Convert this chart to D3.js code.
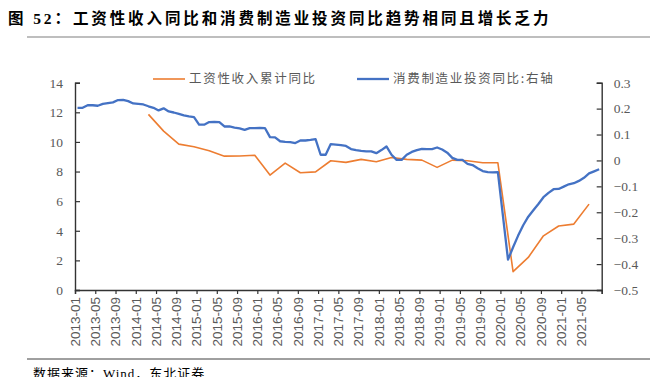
<!DOCTYPE html>
<html>
<head>
<meta charset="utf-8">
<script src="https://cdn.jsdelivr.net/npm/d3@7/dist/d3.min.js"></script>
<style>
  body { margin: 0; background: #fff; }
</style>
</head>
<body>
<div id="chart"></div>
<script>
// ---------- data ----------
// x-axis tick labels (every 4 months)
const tickLabels = ["2013-01","2013-05","2013-09","2014-01","2014-05","2014-09","2015-01","2015-05","2015-09",
  "2016-01","2016-05","2016-09","2017-01","2017-05","2017-09","2018-01","2018-05","2018-09",
  "2019-01","2019-05","2019-09","2020-01","2020-05","2020-09","2021-01","2021-05"];
const axisStart = "2013-01";
const axisEnd = "2021-09";

// 工资性收入累计同比 (quarterly, left axis, %)
const wageMonths = ["2014-03","2014-06","2014-09","2014-12","2015-03","2015-06","2015-09","2015-12",
  "2016-03","2016-06","2016-09","2016-12","2017-03","2017-06","2017-09","2017-12",
  "2018-03","2018-06","2018-09","2018-12","2019-03","2019-06","2019-09","2019-12",
  "2020-03","2020-06","2020-09","2020-12","2021-03","2021-06"];
const wageValues = [11.86,10.73,9.85,9.67,9.40,9.04,9.05,9.10,
  7.76,8.57,7.92,7.98,8.73,8.62,8.82,8.66,
  8.95,8.82,8.77,8.28,8.77,8.73,8.59,8.59,
  1.24,2.20,3.66,4.32,4.45,5.80];

// 消费制造业投资同比 (monthly from 2013-01, right axis; null = no data)
const investStart = "2013-01";
const investValues = [
  0.203,0.203,0.213,0.213,0.211,0.218,0.221,0.224,0.233,0.234,0.229,0.220,   // 2013
  0.218,0.216,0.209,0.203,0.193,0.201,0.189,0.185,0.180,0.174,0.170,0.167,   // 2014
  0.138,0.138,0.148,0.149,0.148,0.131,0.131,0.127,0.124,0.118,0.125,0.125,   // 2015
  0.126,0.125,0.090,0.089,0.074,0.072,0.071,0.067,0.077,0.077,0.079,0.082,   // 2016
  0.022,0.022,0.063,0.061,0.059,0.056,0.044,0.040,0.037,0.035,0.035,0.028,   // 2017
  0.040,0.054,0.022,0.002,0.002,0.022,0.033,0.040,0.045,0.044,0.044,0.050,   // 2018
  0.042,0.030,0.010,0.002,0.002,-0.013,-0.018,-0.030,-0.041,-0.045,-0.046,-0.045, // 2019
  null,-0.383,-0.335,-0.290,-0.250,-0.217,-0.192,-0.168,-0.142,-0.125,-0.111,-0.110, // 2020
  -0.101,-0.092,-0.088,-0.079,-0.067,-0.050,-0.042,-0.034                      // 2021
];

const leftTicks = [0,2,4,6,8,10,12,14];
const rightTicks = [-0.5,-0.4,-0.3,-0.2,-0.1,0,0.1,0.2,0.3];

// ---------- helpers ----------
const parseMonth = d3.timeParse("%Y-%m");
const monthIndex = s => d3.timeMonth.count(parseMonth(axisStart), parseMonth(s));

const wage = wageMonths.map((m, i) => ({ m: monthIndex(m), v: wageValues[i] }));
const invest = investValues
  .map((v, i) => ({ m: monthIndex(investStart) + i, v }))
  .filter(d => d.v !== null);

// ---------- layout ----------
const W = 662, H = 377;
const margin = { top: 82.7, right: 60.3, bottom: 87, left: 75 };
const width = W - margin.left - margin.right;
const height = H - margin.top - margin.bottom;

const svg = d3.select("#chart").append("svg")
  .attr("width", W)
  .attr("height", H)
  .style("font-family", "'Liberation Serif','Times New Roman','Noto Sans CJK SC',serif");

// title
svg.append("text")
  .attr("x", 8)
  .attr("y", 24)
  .style("font-size", "15.5px")
  .style("font-weight", "bold")
  .style("letter-spacing", "2.9px")
  .style("fill", "#000")
  .text("图 52：工资性收入同比和消费制造业投资同比趋势相同且增长乏力");

svg.append("line")
  .attr("x1", 27).attr("x2", 650)
  .attr("y1", 37).attr("y2", 37)
  .attr("stroke", "#7f7f7f")
  .attr("stroke-width", 1.2);

// footer
svg.append("line")
  .attr("x1", 27).attr("x2", 650)
  .attr("y1", 359).attr("y2", 359)
  .attr("stroke", "#404040")
  .attr("stroke-width", 1);

svg.append("text")
  .attr("x", 33)
  .attr("y", 378)
  .style("font-size", "13px")
  .style("letter-spacing", "1px")
  .style("fill", "#000")
  .text("数据来源：Wind，东北证券");

const g = svg.append("g")
  .attr("transform", `translate(${margin.left},${margin.top})`);

// scales
const x = d3.scaleLinear()
  .domain([0, monthIndex(axisEnd)])
  .range([0, width]);

const yL = d3.scaleLinear().domain([0, 14]).range([height, 0]);
const yR = d3.scaleLinear().domain([-0.5, 0.3]).range([height, 0]);

// axes
const axisColor = "#333";
const labelColor = "#595959";

const xTicks = d3.range(0, monthIndex(axisEnd) + 1, 4);
const xAxis = g.append("g")
  .attr("transform", `translate(0,${height})`)
  .call(d3.axisBottom(x).tickValues(xTicks).tickSize(4).tickFormat(""));

xAxis.selectAll(".x-label")
  .data(tickLabels)
  .enter()
  .append("text")
  .attr("class", "x-label")
  .attr("transform", d => `translate(${x(monthIndex(d))},7) rotate(-90)`)
  .attr("dy", "0.35em")
  .attr("text-anchor", "end")
  .style("font-size", "13.5px")
  .style("fill", labelColor)
  .text(d => d);

const leftAxis = g.append("g")
  .call(d3.axisLeft(yL).tickValues(leftTicks).tickSize(-5).tickPadding(12));

const rightAxis = g.append("g")
  .attr("transform", `translate(${width},0)`)
  .call(d3.axisRight(yR).tickValues(rightTicks).tickSize(-5).tickPadding(12)
    .tickFormat(d => d === 0 ? "0" : d3.format(".1f")(d)));

[xAxis, leftAxis, rightAxis].forEach(a => {
  a.selectAll(".domain").attr("stroke", axisColor).attr("stroke-width", 1.4);
  a.selectAll(".tick line").attr("stroke", axisColor).attr("stroke-width", 1.2);
  a.selectAll(".tick text")
    .style("font-size", "13.5px")
    .style("font-family", "'Liberation Serif','Times New Roman',serif")
    .attr("fill", labelColor);
});

// lines (points sit in the middle of each month)
const lineL = d3.line()
  .x(d => x(d.m + 0.5))
  .y(d => yL(d.v));

const lineR = d3.line()
  .x(d => x(d.m + 0.5))
  .y(d => yR(d.v));

g.append("path")
  .datum(wage)
  .attr("fill", "none")
  .attr("stroke", "#ED7D31")
  .attr("stroke-width", 1.6)
  .attr("stroke-linejoin", "round")
  .attr("d", lineL);

g.append("path")
  .datum(invest)
  .attr("fill", "none")
  .attr("stroke", "#4472C4")
  .attr("stroke-width", 2.3)
  .attr("stroke-linejoin", "round")
  .attr("d", lineR);

// legend
const legend = [
  { name: "工资性收入累计同比", color: "#ED7D31", w: 1.6, x: 153 },
  { name: "消费制造业投资同比:右轴", color: "#4472C4", w: 2.3, x: 357 }
];

const lg = svg.selectAll(".legend")
  .data(legend)
  .enter()
  .append("g")
  .attr("class", "legend")
  .attr("transform", d => `translate(${d.x},79)`);

lg.append("line")
  .attr("x1", 0).attr("x2", 32)
  .attr("stroke", d => d.color)
  .attr("stroke-width", d => d.w);

lg.append("text")
  .attr("x", 36)
  .attr("dy", "0.35em")
  .style("font-family", "'Noto Sans CJK SC',sans-serif")
  .style("font-size", "12.5px")
  .style("letter-spacing", "1.7px")
  .style("fill", labelColor)
  .text(d => d.name);
</script>
</body>
</html>
